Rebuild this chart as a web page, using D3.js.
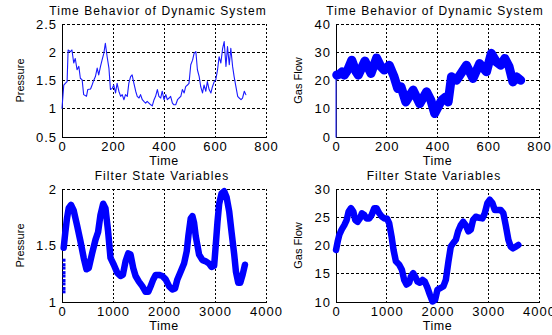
<!DOCTYPE html>
<html><head><meta charset="utf-8">
<script src="https://cdn.jsdelivr.net/npm/d3@7"></script>
<style>
html,body{margin:0;padding:0;background:#fff;}
svg text{font-family:"Liberation Sans",Arial,sans-serif;fill:#000;}
</style></head>
<body><svg id="c" width="552" height="335"></svg>
<script>
// ---- Data ----
const timeTicksTop = [0, 200, 400, 600, 800];
const timeTicksBottom = [0, 1000, 2000, 3000, 4000];
const pressureTicksTop = [0.5, 1, 1.5, 2, 2.5];
const gasTicksTop = [0, 10, 20, 30, 40];
const pressureTicksBottom = [1, 1.5, 2];
const gasTicksBottom = [10, 15, 20, 25, 30];

const pressureTime = [0,7,13,20,24,33,39,46,52,59,66,72,79,85,96,101,112,118,125,131,138,144,151,157,164,170,177,184,190,197,203,210,216,223,230,236,243,249,256,262,269,275,282,289,295,302,308,315,321,328,334,341,348,354,361,367,374,380,387,393,400,407,413,420,426,433,439,446,453,459,466,472,479,485,492,498,505,512,518,525,531,538,544,551,557,564,570,577,584,590,597,603,610,616,623,630,636,643,649,656,662,669,675,682,689,695,702,708,715,721];
const pressureValue = [1.01,1.42,1.45,1.48,2.04,2.01,2.04,1.81,1.89,1.69,1.75,1.54,1.51,1.25,1.22,1.34,1.35,1.42,1.51,1.57,1.72,1.60,1.75,1.86,1.98,2.16,1.92,1.72,1.34,1.36,1.42,1.28,1.45,1.31,1.22,1.25,1.16,1.25,1.22,1.45,1.57,1.60,1.45,1.31,1.22,1.19,1.25,1.16,1.13,1.10,1.13,1.10,1.07,1.05,1.16,1.22,1.34,1.22,1.19,1.31,1.16,1.25,1.16,1.19,1.22,1.10,1.07,1.07,1.16,1.19,1.22,1.34,1.28,1.39,1.42,1.45,1.78,1.86,1.98,2.01,1.69,1.57,1.39,1.28,1.42,1.31,1.48,1.34,1.28,1.39,1.48,1.51,1.69,1.92,1.81,2.07,2.19,1.75,2.10,1.78,2.07,1.75,1.57,1.39,1.22,1.19,1.16,1.19,1.31,1.25];

const gasStartTime = [0, 0];
const gasStartValue = [0, 21.9];
const gasTime = [3,13,24,33,46,62,79,88,114,138,160,177,190,210,229,243,256,275,304,330,357,374,389,416,433,442,455,475,514,540,566,593,612,632,649,665,682,697,711,728];
const gasValue = [21.9,22.2,23.1,21.9,23.7,27.2,23.1,21.9,26.9,22.5,28.0,24.9,23.7,25.4,21.3,17.2,17.8,12.4,16.6,11.8,16.0,13.0,8.3,13.0,14.2,12.4,21.3,20.1,25.4,20.7,26.0,23.1,29.6,26.6,25.4,27.8,24.9,19.5,21.3,20.1];

const filterPressureStartValue = [1.09,1.12,1.16,1.19,1.23,1.26,1.30,1.33,1.37];
const filterPressureTime = [33,66,98,131,177,229,295,361,426,479,525,590,656,708,754,807,852,905,951,1016,1082,1147,1193,1246,1298,1344,1397,1443,1508,1574,1639,1692,1738,1790,1836,1902,1967,2033,2098,2164,2216,2262,2328,2393,2446,2479,2524,2557,2590,2623,2688,2754,2820,2885,2931,2983,3016,3049,3082,3128,3180,3226,3279,3324,3377,3410,3456,3495,3541,3587];
const filterPressureValue = [1.48,1.62,1.74,1.83,1.86,1.81,1.68,1.54,1.39,1.29,1.30,1.43,1.55,1.62,1.77,1.87,1.83,1.62,1.39,1.33,1.26,1.23,1.24,1.36,1.43,1.42,1.30,1.23,1.18,1.14,1.09,1.09,1.14,1.20,1.24,1.24,1.23,1.20,1.14,1.11,1.12,1.20,1.27,1.34,1.45,1.59,1.74,1.76,1.70,1.58,1.42,1.37,1.36,1.34,1.31,1.32,1.51,1.71,1.87,1.96,1.98,1.93,1.80,1.62,1.42,1.27,1.17,1.17,1.24,1.33];

const filterGasTime = [0,33,66,111,164,210,249,295,341,380,426,472,511,557,603,656,702,754,800,852,905,951,1003,1049,1095,1134,1180,1246,1298,1344,1390,1443,1475,1521,1561,1606,1652,1705,1751,1803,1849,1902,1954,2000,2065,2118,2164,2216,2262,2308,2361,2406,2459,2505,2557,2610,2656,2701,2754,2820,2885,2931,2983,3029,3082,3128,3180,3246,3298,3344,3397,3443,3488,3541,3593];
const filterGasValue = [19.2,20.7,21.9,22.8,23.6,24.5,26.0,26.6,26.0,24.5,24.2,24.8,25.7,25.4,24.8,24.8,25.4,26.6,26.6,25.7,25.1,24.8,24.8,23.9,21.6,19.2,17.2,16.6,15.7,13.9,13.1,13.4,14.5,15.1,14.5,13.6,13.4,13.9,13.6,12.5,11.3,10.1,10.4,12.2,12.5,12.8,13.9,17.2,19.8,20.4,21.0,22.5,23.6,24.2,23.6,22.5,22.8,24.5,25.1,24.9,24.8,25.7,27.5,28.1,27.5,26.3,26.3,26.3,25.7,23.6,21.0,19.8,19.5,19.8,20.1];

// ---- Drawing ----
const svg = d3.select('#c');
const zip = (a, b) => a.map((x, i) => [x, b[i]]);
const FONT = '"Liberation Sans",Arial,sans-serif';

const panels = [
  {box:[62,266,24,137], xd:[0,800], yd:[0.5,2.5], xt:timeTicksTop, yt:pressureTicksTop, title:'Time Behavior of Dynamic System', tx:158, ylab:'Pressure', ylx:20,
   series:[{d:zip(pressureTime, pressureValue), w:1.1, color:'#1a1aff'}]},
  {box:[336,539,24,137], xd:[0,800], yd:[0,40], xt:timeTicksTop, yt:gasTicksTop, title:'Time Behavior of Dynamic System', tx:435, ylab:'Gas Flow', ylx:298,
   series:[{d:zip(gasStartTime, gasStartValue), w:1.2, color:'#3a3aff'},{d:zip(gasTime, gasValue), w:9, color:'#0000ff'}]},
  {box:[62,266,189,302], xd:[0,4000], yd:[1,2], xt:timeTicksBottom, yt:pressureTicksBottom, title:'Filter State Variables', tx:162, ylab:'Pressure', ylx:20,
   series:[{d:zip(filterPressureTime, filterPressureValue), w:6.5, color:'#0000ff'}],
   markers:filterPressureStartValue.map(v => [0, v])},
  {box:[336,539,189,302], xd:[0,4000], yd:[10,30], xt:timeTicksBottom, yt:gasTicksBottom, title:'Filter State Variables', tx:434, ylab:'Gas Flow', ylx:298,
   series:[{d:zip(filterGasTime, filterGasValue), w:6.5, color:'#0000ff'}]}
];

panels.forEach(p => {
  const [x0, x1, y0, y1] = p.box;
  const x = d3.scaleLinear().domain(p.xd).range([x0, x1]);
  const y = d3.scaleLinear().domain(p.yd).range([y1, y0]);
  const g = svg.append('g');

  // grid
  g.selectAll('.vg').data(p.xt.filter(t => t !== p.xd[0])).enter().append('line')
    .attr('x1', d => x(d)).attr('x2', d => x(d)).attr('y1', y0).attr('y2', y1)
    .attr('stroke', '#000').attr('stroke-width', 1).attr('stroke-dasharray', '2,2').attr('shape-rendering','crispEdges');
  g.selectAll('.hg').data(p.yt.filter(t => t !== p.yd[0])).enter().append('line')
    .attr('x1', x0).attr('x2', x1).attr('y1', d => y(d)).attr('y2', d => y(d))
    .attr('stroke', '#000').attr('stroke-width', 1).attr('stroke-dasharray', '3,2').attr('shape-rendering','crispEdges');

  // axes
  const xa = g.append('g').attr('transform', `translate(0,${y1})`)
    .call(d3.axisBottom(x).tickValues(p.xt).tickSize(0).tickPadding(5).tickFormat(d3.format('d')));
  const ya = g.append('g').attr('transform', `translate(${x0},0)`)
    .call(d3.axisLeft(y).tickValues(p.yt).tickSize(0).tickPadding(5).tickFormat(d => String(d)));
  [xa, ya].forEach(a => {
    a.select('.domain').attr('stroke', '#000').attr('stroke-width', 1).attr('shape-rendering','crispEdges');
    a.selectAll('text').style('font-family', FONT).style('font-size', '13px').style('letter-spacing', '1px').attr('fill', '#000');
  });
  xa.selectAll('text').attr('dy', '0.71em');

  // data
  const clipId = 'clip' + x0 + '_' + y0;
  svg.append('clipPath').attr('id', clipId).append('rect')
    .attr('x', x0 - 5).attr('y', y0 - 5).attr('width', x1 - x0 + 10).attr('height', y1 - y0 + 10);
  const line = d3.line().x(d => x(d[0])).y(d => y(d[1]));
  p.series.forEach(s => {
    g.append('path').datum(s.d).attr('d', line).attr('fill', 'none')
      .attr('stroke', s.color).attr('stroke-width', s.w)
      .attr('stroke-linejoin', 'round').attr('stroke-linecap', 'round')
      .attr('clip-path', `url(#${clipId})`);
  });
  if (p.markers) {
    g.selectAll('.mk').data(p.markers).enter().append('rect')
      .attr('x', d => x(d[0]) + 0.5).attr('y', d => y(d[1]) - 1.5)
      .attr('width', 3).attr('height', 3).attr('fill', '#0000ff');
  }

  // labels
  g.append('text').attr('x', p.tx).attr('y', y0 - 9).attr('text-anchor', 'middle')
    .style('font-size', '12px').style('letter-spacing', '1.1px').text(p.title);
  g.append('text').attr('x', (x0 + x1) / 2).attr('y', y1 + 28).attr('text-anchor', 'middle')
    .style('font-size', '12.5px').style('letter-spacing', '0.6px').text('Time');
  g.append('text').attr('transform', `translate(${p.ylx + 4},${(y0 + y1) / 2}) rotate(-90)`)
    .attr('text-anchor', 'middle').style('font-size', '11px').text(p.ylab);
});
</script></body></html>
